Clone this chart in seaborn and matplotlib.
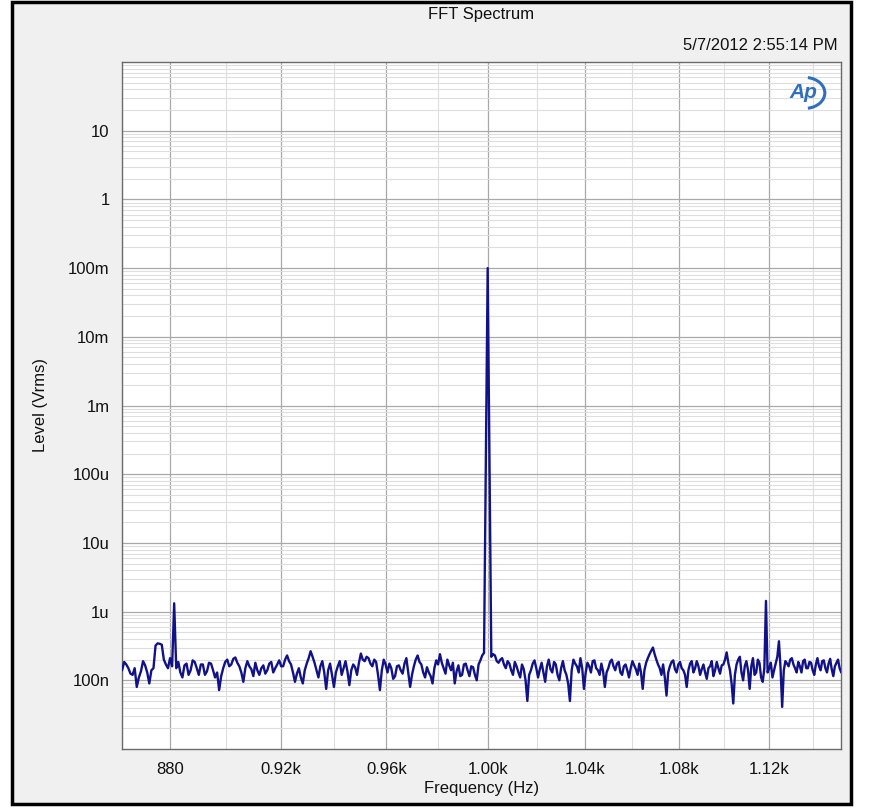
import numpy as np
import pandas as pd
import matplotlib
matplotlib.use("Agg")
import matplotlib.pyplot as plt
from matplotlib.patches import Rectangle, Arc
from matplotlib.ticker import NullFormatter, FixedLocator
import seaborn as sns

# ---------------- data ----------------
bin_start_hz = 862.29
bin_width_hz = 0.7325
# FFT levels in nV rms, one per bin
levels_nv = [
    160, 140, 185, 170, 150, 125, 120, 150, 80, 110, 135, 190, 165, 130, 90, 140, 150, 320, 345, 340,
    330, 200, 170, 150, 210, 160, 1320, 150, 185, 130, 110, 165, 175, 120, 140, 195, 185, 150, 120, 170,
    170, 120, 135, 180, 175, 140, 110, 130, 72, 115, 150, 185, 200, 160, 170, 205, 215, 180, 160, 130,
    95, 150, 190, 160, 145, 115, 180, 140, 120, 150, 165, 125, 140, 175, 185, 130, 150, 170, 195, 160,
    160, 200, 230, 190, 170, 130, 95, 125, 150, 110, 90, 140, 175, 210, 265, 220, 180, 140, 110, 160,
    190, 130, 75, 140, 175, 120, 80, 130, 160, 190, 120, 150, 190, 135, 85, 140, 170, 155, 120, 180,
    245, 200, 190, 220, 210, 175, 160, 200, 185, 120, 72, 140, 200, 170, 130, 175, 150, 105, 115, 160,
    165, 140, 125, 175, 210, 130, 80, 120, 160, 200, 230, 185, 170, 130, 110, 155, 130, 115, 90, 150,
    195, 170, 240, 180, 150, 125, 200, 165, 140, 180, 90, 135, 165, 115, 120, 170, 175, 140, 115, 160,
    155, 120, 100, 170, 195, 230, 250, 160000, 100000000, 140000, 220, 240, 230, 190, 180, 200, 210, 170, 150, 190,
    175, 140, 120, 185, 160, 130, 110, 170, 145, 100, 50, 120, 140, 175, 195, 150, 110, 145, 180, 130,
    95, 160, 200, 145, 130, 185, 170, 120, 100, 150, 190, 140, 120, 90, 50, 140, 200, 175, 160, 130,
    210, 150, 75, 130, 180, 160, 130, 190, 195, 150, 140, 120, 175, 135, 80, 130, 150, 185, 200, 160,
    140, 175, 185, 130, 120, 160, 170, 140, 110, 150, 190, 165, 145, 120, 175, 130, 75, 140, 180, 210,
    240, 270, 300, 240, 200, 170, 150, 120, 170, 110, 60, 130, 160, 185, 195, 145, 130, 170, 185, 150,
    140, 120, 80, 140, 175, 190, 130, 150, 190, 160, 120, 145, 170, 130, 105, 150, 160, 190, 115, 140,
    185, 150, 125, 165, 170, 200, 255, 180, 140, 90, 46, 120, 170, 200, 220, 130, 100, 160, 190, 140,
    75, 160, 210, 120, 130, 200, 180, 110, 95, 150, 1430, 130, 150, 180, 110, 140, 175, 220, 370, 150,
    41, 140, 190, 175, 160, 200, 210, 170, 150, 130, 185, 160, 130, 190, 200, 150, 150, 185, 180, 140,
    120, 170, 210, 160, 140, 190, 195, 150, 130, 175, 205, 145, 115, 160, 180, 200, 150, 130, 170, 185,
]

x_ticks = [880, 920, 960, 1000, 1040, 1080, 1120]
x_tick_labels = ["880", "0.92k", "0.96k", "1.00k", "1.04k", "1.08k", "1.12k"]
x_minor_ticks = [900, 940, 980, 1020, 1060, 1100, 1140]
y_ticks = [10, 1, 0.1, 0.01, 0.001, 1e-4, 1e-5, 1e-6, 1e-7]
y_tick_labels = ["10", "1", "100m", "10m", "1m", "100u", "10u", "1u", "100n"]

title = "FFT Spectrum"
timestamp = "5/7/2012 2:55:14 PM"
x_label = "Frequency (Hz)"
y_label = "Level (Vrms)"

df = pd.DataFrame({
    "freq": bin_start_hz + bin_width_hz * np.arange(len(levels_nv)),
    "level": np.array(levels_nv, dtype=float) * 1e-9,
})

# ---------------- figure ----------------
sns.set_style("white")
plt.rcParams["font.family"] = ["Liberation Sans", "DejaVu Sans"]

W, H = 869, 811
fig = plt.figure(figsize=(W / 100, H / 100), dpi=100)
fig.patch.set_facecolor("white")

frame = Rectangle((12 / W, 1 - 804 / H), (851 - 12) / W, (804 - 2) / H,
                  transform=fig.transFigure, facecolor="#f0f0f0",
                  edgecolor="black", linewidth=2.5, zorder=-5)
fig.add_artist(frame)

L, R, T, B = 122, 841, 62, 749
ax = fig.add_axes([L / W, 1 - B / H, (R - L) / W, (B - T) / H])
ax.set_facecolor("white")

sns.lineplot(data=df, x="freq", y="level", ax=ax, color="#121288",
             linewidth=1.7, estimator=None, legend=False, zorder=3)

ax.set_xscale("log")
ax.set_yscale("log")
ax.set_xlim(863, 1153)
ax.set_ylim(1e-8, 1e2)

ax.xaxis.set_major_locator(FixedLocator(x_ticks))
ax.set_xticklabels(x_tick_labels)
ax.xaxis.set_minor_locator(FixedLocator(x_minor_ticks))
ax.xaxis.set_minor_formatter(NullFormatter())

ax.yaxis.set_major_locator(FixedLocator(y_ticks))
ax.set_yticklabels(y_tick_labels)
y_minor = [m * 10.0 ** e for e in range(-8, 2) for m in range(2, 10)]
ax.yaxis.set_minor_locator(FixedLocator(y_minor))
ax.yaxis.set_minor_formatter(NullFormatter())

ax.grid(which="major", color="#a9a9a9", linewidth=0.9, zorder=1)
ax.grid(which="minor", color="#dedede", linewidth=0.8, zorder=0)
ax.set_axisbelow(True)
ax.tick_params(which="both", length=0, labelsize=12, pad=9, colors="#111111")

for sp in ax.spines.values():
    sp.set_color("#6a6a6a")
    sp.set_linewidth(1.0)

ax.set_xlabel("")
ax.set_ylabel("")

cx = (L + R) / 2 / W
fig.text(cx, 1 - 15 / H, title, ha="center", va="center", fontsize=12, color="#111111")
fig.text(838 / W, 1 - 46 / H, timestamp, ha="right", va="center", fontsize=12, color="#111111")
fig.text(cx, 1 - 789 / H, x_label, ha="center", va="center", fontsize=12, color="#111111")
fig.text(40 / W, 1 - (T + B) / 2 / H, y_label, ha="center", va="center",
         rotation=90, fontsize=12, color="#111111")

# AP logo
ax.text(0.947, 0.955, "Ap", transform=ax.transAxes, ha="center", va="center",
        fontsize=15, fontstyle="italic", fontweight="bold", color="#2f6fbd", zorder=5)
ax.add_patch(Arc((0.950, 0.955), 0.055, 0.045, theta1=-80, theta2=80,
                 transform=ax.transAxes, color="#2f6fbd", linewidth=2.2, zorder=5))

fig.savefig("out.png", dpi=100, facecolor=fig.get_facecolor())
